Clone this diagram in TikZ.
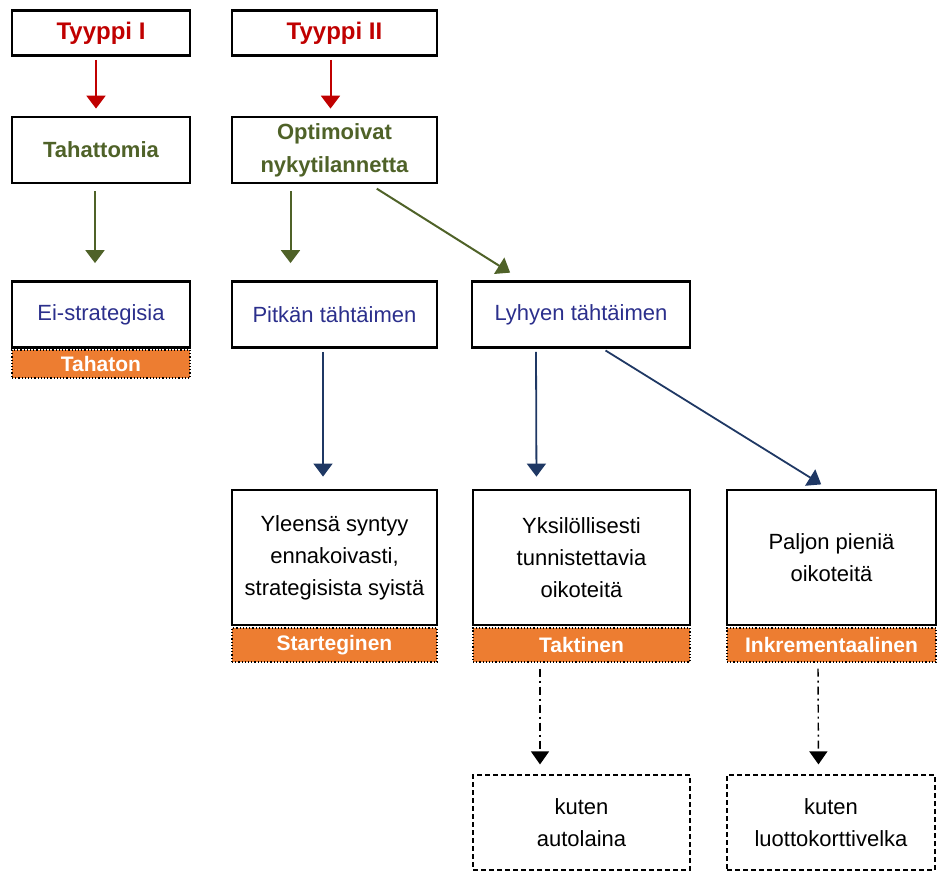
\documentclass[tikz,border=0pt]{standalone}
\usepackage{fontspec}
\setmainfont{Liberation Sans}
\usepackage{tikz}
\usetikzlibrary{arrows.meta, shadows}
\definecolor{typered}{HTML}{C00000}
\definecolor{olivegreen}{HTML}{4F6228}
\definecolor{navyblue}{HTML}{1F3864}
\definecolor{inkblue}{HTML}{2B2F8C}
\definecolor{tagorange}{HTML}{ED7D31}

\begin{document}
\begin{tikzpicture}[x=0.5pt, y=-0.5pt, every node/.style={font=\fontsize{11}{16}\selectfont}]
    % Define styles
    \tikzstyle{box} = [rectangle, draw=black, line width=1.4pt, fill=white, inner sep=0pt, align=center, drop shadow={shadow xshift=0.7pt, shadow yshift=-0.7pt, fill=black, opacity=0.5}]
    \tikzstyle{typebox} = [box, minimum height=22.5pt, text=typered, font=\bfseries\fontsize{12}{14}\selectfont]
    \tikzstyle{greenbox} = [box, minimum height=33pt, text=olivegreen, font=\bfseries\fontsize{11}{16.5}\selectfont]
    \tikzstyle{bluebox} = [box, minimum height=33pt, text=inkblue]
    \tikzstyle{textbox} = [box, minimum height=67.5pt, text=black]
    \tikzstyle{tagbar} = [rectangle, draw=black, densely dotted, line width=0.6pt, fill=tagorange, inner sep=0pt, text=white, font=\bfseries\fontsize{10.5}{12}\selectfont]
    \tikzstyle{examplebox} = [rectangle, draw=black, dash pattern=on 2.5pt off 1.5pt, line width=0.6pt, minimum height=47.5pt, align=center, inner sep=0pt]
    \tikzstyle{redarrow} = [line width=1pt, typered, -{Triangle[width=9.5pt,length=6.5pt]}]
    \tikzstyle{greenarrow} = [line width=1pt, olivegreen, -{Triangle[width=9.5pt,length=6.5pt]}]
    \tikzstyle{bluearrow} = [line width=0.9pt, navyblue, -{Triangle[width=9.5pt,length=6.5pt]}]
    \tikzstyle{exarrow} = [line width=0.7pt, black, dash pattern=on 4pt off 2pt on 1pt off 2pt, -{Triangle[width=9pt,length=6.5pt]}]

    \useasboundingbox (0,0) rectangle (938,874);

    % Types at top
    \node (typ1) [typebox, minimum width=89pt] at (101,33) {Tyyppi I};
    \node (typ2) [typebox, minimum width=102.5pt] at (334.5,33) {Tyyppi II};

    % Second level
    \node (tah) [greenbox, minimum width=89pt] at (101,150) {Tahattomia};
    \node (opt) [greenbox, minimum width=102.5pt] at (334.5,150) {Optimoivat\\nykytilannetta};

    % Third level
    \node (eis) [bluebox, minimum width=89pt] at (101,314.5) {Ei-strategisia};
    \node (pit) [bluebox, minimum width=102.5pt] at (334.5,314.5) {Pitkän tähtäimen};
    \node (lyh) [bluebox, minimum width=109pt] at (581,314.5) {Lyhyen tähtäimen};
    \node (tahaton) [tagbar, minimum width=89pt, minimum height=14pt] at (101,364) {Tahaton};

    % Bottom level
    \node (yle) [textbox, minimum width=102.5pt] at (334.5,557.5) {Yleensä syntyy\\ennakoivasti,\\strategisista syistä};
    \node (yks) [textbox, minimum width=108.5pt] at (581.5,557.5) {Yksilöllisesti\\tunnistettavia\\oikoteitä};
    \node (pal) [textbox, minimum width=104.5pt] at (831.5,557.5) {Paljon pieniä\\oikoteitä};

    \node (strat) [tagbar, minimum width=102.5pt, minimum height=17pt] at (334.5,645) {Starteginen};
    \node (takt) [tagbar, minimum width=108.5pt, minimum height=17pt] at (581.5,645) {Taktinen};
    \node (inkr) [tagbar, minimum width=104.5pt, minimum height=17pt] at (831.5,645) {Inkrementaalinen};

    % Examples
    \node (auto) [examplebox, minimum width=108.5pt] at (581.5,822.5) {kuten\\autolaina};
    \node (luotto) [examplebox, minimum width=104pt] at (831,822.5) {kuten\\luottokorttivelka};

    % Type arrows
    \draw [redarrow, shorten <=1.5pt, shorten >=3.5pt] ([xshift=-2.5pt]typ1.south) -- ([xshift=-2.5pt]tah.north);
    \draw [redarrow, shorten <=1.5pt, shorten >=3.5pt] ([xshift=-2pt]typ2.south) -- ([xshift=-2pt]opt.north);

    % Green arrows
    \draw [greenarrow, shorten <=3.5pt, shorten >=8.5pt] ([xshift=-3pt]tah.south) -- ([xshift=-3pt]eis.north);
    \draw [greenarrow, shorten <=3.5pt, shorten >=8.5pt] ([xshift=-22pt]opt.south) -- ([xshift=-22pt]pit.north);
    \draw [greenarrow, shorten <=4pt, shorten >=7pt] ([xshift=17.75pt]opt.south) -- ([xshift=-29.5pt]lyh.north);

    % Blue arrows
    \draw [bluearrow, shorten <=1.5pt, shorten >=6pt] ([xshift=-5.75pt]pit.south) -- ([xshift=-5.75pt]yle.north);
    \draw [bluearrow, shorten <=1.5pt, shorten >=6pt] ([xshift=-22.5pt]lyh.south) -- ([xshift=-22.5pt]yks.north);
    \draw [bluearrow, shorten <=1.5pt, shorten >=4pt] ([xshift=11pt]lyh.south) -- ([xshift=-1.75pt]pal.north);

    % Example arrows
    \draw [exarrow, shorten <=3pt, shorten >=5pt] ([xshift=-20.75pt]takt.south) -- ([xshift=-20.75pt]auto.north);
    \draw [exarrow, shorten <=3pt, shorten >=5pt] ([xshift=-6.75pt]inkr.south) -- ([xshift=-6.25pt]luotto.north);
\end{tikzpicture}
\end{document}
